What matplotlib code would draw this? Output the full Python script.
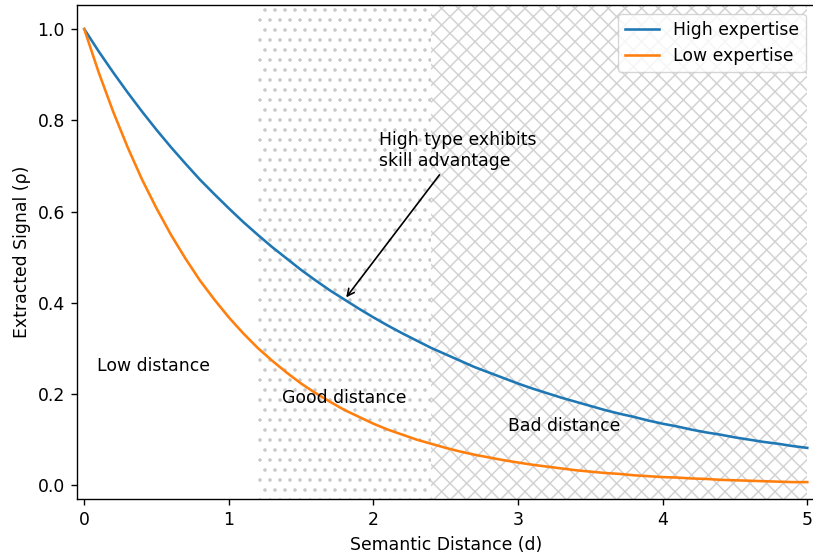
import matplotlib
matplotlib.use("Agg")
import matplotlib.pyplot as plt
import matplotlib.hatch as mhatch

# Semantic distance samples
d = [0.0, 0.1, 0.2, 0.3, 0.4, 0.5, 0.6, 0.7, 0.8, 0.9,
     1.0, 1.1, 1.2, 1.3, 1.4, 1.5, 1.6, 1.7, 1.8, 1.9,
     2.0, 2.1, 2.2, 2.3, 2.4, 2.5, 2.6, 2.7, 2.8, 2.9,
     3.0, 3.1, 3.2, 3.3, 3.4, 3.5, 3.6, 3.7, 3.8, 3.9,
     4.0, 4.1, 4.2, 4.3, 4.4, 4.5, 4.6, 4.7, 4.8, 4.9, 5.0]

high_expertise = [1.000, 0.951, 0.905, 0.861, 0.819, 0.779, 0.741, 0.705, 0.670, 0.638,
                  0.607, 0.577, 0.549, 0.522, 0.497, 0.472, 0.449, 0.427, 0.407, 0.387,
                  0.368, 0.350, 0.333, 0.317, 0.301, 0.287, 0.273, 0.259, 0.247, 0.235,
                  0.223, 0.212, 0.202, 0.192, 0.183, 0.174, 0.165, 0.157, 0.150, 0.142,
                  0.135, 0.129, 0.122, 0.116, 0.111, 0.105, 0.100, 0.095, 0.091, 0.086, 0.082]

low_expertise = [1.000, 0.905, 0.819, 0.741, 0.670, 0.607, 0.549, 0.497, 0.449, 0.407,
                 0.368, 0.333, 0.301, 0.273, 0.247, 0.223, 0.202, 0.183, 0.165, 0.150,
                 0.135, 0.122, 0.111, 0.100, 0.091, 0.082, 0.074, 0.067, 0.061, 0.055,
                 0.050, 0.045, 0.041, 0.037, 0.033, 0.030, 0.027, 0.025, 0.022, 0.020,
                 0.018, 0.017, 0.015, 0.014, 0.012, 0.011, 0.010, 0.009, 0.008, 0.007, 0.007]

good_region = (1.2, 2.4)
bad_region = (2.4, 5.0)

# Slightly coarser dot hatch (10 rows per hatch unit) to match the reference
dot_hatch = ".."
try:
    _orig_types = list(mhatch._hatch_types)

    class _Dots(mhatch.SmallFilledCircles):
        def __init__(self, hatch, density):
            self.num_rows = hatch.count('.') * 10
            mhatch.Circles.__init__(self, hatch, density)

    mhatch._hatch_types = [(_Dots if t is mhatch.SmallFilledCircles else t)
                           for t in _orig_types]
    mhatch.get_path(".", 6)
    dot_hatch = "."
except Exception:
    try:
        mhatch._hatch_types = _orig_types
    except Exception:
        pass
    dot_hatch = ".."

s = 1.24
plt.rcParams.update({
    "font.size": 10 * s,
    "lines.linewidth": 1.5 * s,
    "axes.linewidth": 0.8 * s,
    "xtick.major.size": 3.5 * s,
    "ytick.major.size": 3.5 * s,
    "xtick.major.width": 0.8 * s,
    "ytick.major.width": 0.8 * s,
    "xtick.major.pad": 3.5 * s,
    "ytick.major.pad": 3.5 * s,
    "axes.labelpad": 4.0 * s,
    "hatch.linewidth": 1.1,
})

fig = plt.figure(figsize=(8.13, 5.6), dpi=100)
ax = fig.add_axes([77 / 813, 61 / 560, 737.5 / 813, 493.7 / 560])

ax.axvspan(*good_region, facecolor="none", edgecolor="#c8c8c8", hatch=dot_hatch, linewidth=0)
ax.axvspan(*bad_region, facecolor="none", edgecolor="lightgray", hatch="xx", linewidth=0)

ax.plot(d, high_expertise, color="#1f77b4", label="High expertise")
ax.plot(d, low_expertise, color="#ff7f0e", label="Low expertise")

ax.text(0.09, 0.25, "Low distance")
ax.text(1.37, 0.18, "Good distance")
ax.text(2.93, 0.12, "Bad distance")

ax.annotate("High type exhibits\nskill advantage", xy=(1.8, 0.407), xytext=(2.04, 0.70),
            arrowprops=dict(arrowstyle="->", color="black", linewidth=1.2))

ax.set_xlim(-0.05, 5.05)
ax.set_ylim(-0.03, 1.052)
ax.set_xlabel("Semantic Distance (d)")
ax.set_ylabel("Extracted Signal (ρ)")
ax.legend(loc="upper right")

fig.savefig("out.png", dpi=100)
